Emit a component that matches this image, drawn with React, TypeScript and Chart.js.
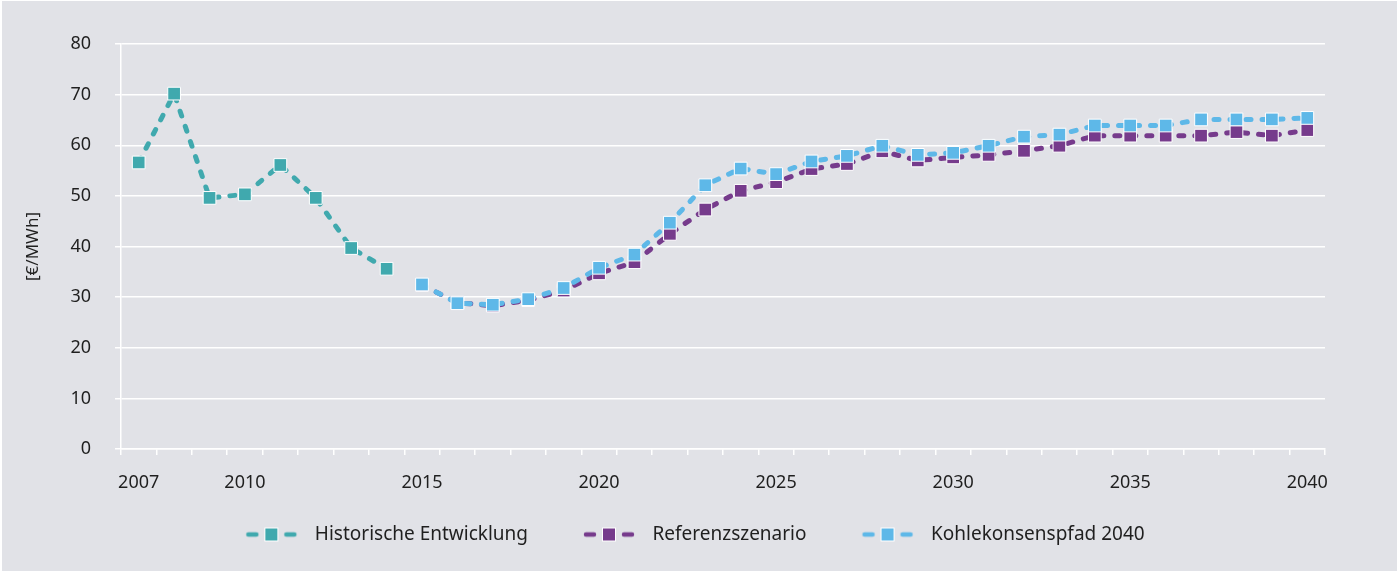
import React, { useEffect, useRef } from "react";
import { Chart, registerables } from "chart.js";

Chart.register(...registerables);

const YEARS = [
  "2007", "2008", "2009", "2010", "2011", "2012", "2013", "2014", "2015", "2016",
  "2017", "2018", "2019", "2020", "2021", "2022", "2023", "2024", "2025", "2026",
  "2027", "2028", "2029", "2030", "2031", "2032", "2033", "2034", "2035", "2036",
  "2037", "2038", "2039", "2040",
];

const TICK_LABELS = ["2007", "2010", "2015", "2020", "2025", "2030", "2035", "2040"];

const HISTORISCH = [
  56.6, 70.2, 49.6, 50.3, 56.1, 49.6, 39.7, 35.6, null, null,
  null, null, null, null, null, null, null, null, null, null,
  null, null, null, null, null, null, null, null, null, null,
  null, null, null, null,
];

const REFERENZ = [
  null, null, null, null, null, null, null, null, 32.4, 28.9,
  28.3, 29.4, 31.3, 34.7, 36.9, 42.5, 47.3, 51.0, 52.7, 55.3,
  56.3, 58.8, 57.0, 57.6, 58.1, 58.9, 59.9, 61.9, 61.9, 61.9,
  61.9, 62.6, 61.9, 63.0,
];

const KOHLEKONSENS = [
  null, null, null, null, null, null, null, null, 32.5, 28.8,
  28.5, 29.6, 31.8, 35.8, 38.4, 44.7, 52.1, 55.4, 54.3, 56.8,
  57.9, 59.9, 58.1, 58.5, 59.9, 61.7, 62.1, 63.9, 63.9, 63.9,
  65.1, 65.1, 65.1, 65.4,
];

const SERIES_NAMES = ["Historische Entwicklung", "Referenzszenario", "Kohlekonsenspfad 2040"];
const SERIES_COLORS = ["#40a9ae", "#763b8c", "#5eb8e8"];
const Y_TITLE = "[€/MWh]";

const FONT = "'Noto Sans', 'Liberation Sans', sans-serif";
const TEXT_COLOR = "#1f1f1f";

const LEGEND_BOX = 115;

function legendImage(color: string): HTMLCanvasElement {
  const c = document.createElement("canvas");
  const w = LEGEND_BOX;
  const h = 16;
  c.width = w;
  c.height = h;
  const ctx = c.getContext("2d")!;
  const x0 = w - 59; // marker start
  ctx.strokeStyle = color;
  ctx.lineWidth = 4.5;
  ctx.lineCap = "round";
  ctx.beginPath();
  ctx.moveTo(x0 + 2, h / 2);
  ctx.lineTo(x0 + 10, h / 2);
  ctx.moveTo(x0 + 40, h / 2);
  ctx.lineTo(x0 + 48, h / 2);
  ctx.stroke();
  ctx.fillStyle = "#ffffff";
  ctx.fillRect(x0 + 18, h / 2 - 7, 14, 14);
  ctx.fillStyle = color;
  ctx.fillRect(x0 + 19, h / 2 - 6, 12, 12);
  return c;
}

export default function App() {
  const canvasRef = useRef<HTMLCanvasElement | null>(null);

  useEffect(() => {
    document.body.style.margin = "0";
    const canvas = canvasRef.current;
    if (!canvas) return;

    const images = SERIES_COLORS.map((c) => legendImage(c));
    const seriesData = [HISTORISCH, REFERENZ, KOHLEKONSENS];
    const orders = [2, 1, 0];

    const chart = new Chart(canvas, {
      type: "line",
      data: {
        labels: YEARS,
        datasets: seriesData.map((d, i) => ({
          label: SERIES_NAMES[i],
          data: d,
          order: orders[i],
          borderColor: SERIES_COLORS[i],
          backgroundColor: SERIES_COLORS[i],
          borderWidth: 5,
          borderDash: [5, 11],
          borderCapStyle: "round" as const,
          tension: 0,
          fill: false,
          spanGaps: false,
          pointStyle: "rect" as const,
          pointRadius: 9,
          pointHoverRadius: 9,
          pointBackgroundColor: SERIES_COLORS[i],
          pointBorderColor: "#ffffff",
          pointBorderWidth: 1,
        })),
      },
      options: {
        responsive: false,
        animation: false,
        devicePixelRatio: 1,
        layout: { padding: { top: 44, right: 74, bottom: 17, left: 10 } },
        font: { family: FONT },
        plugins: {
          tooltip: { enabled: false },
          legend: {
            position: "bottom",
            labels: {
              usePointStyle: true,
              pointStyleWidth: LEGEND_BOX,
              padding: 0,
              color: TEXT_COLOR,
              font: { family: FONT, size: 19 },
              sort: (a: any, b: any) => a.datasetIndex - b.datasetIndex,
              generateLabels: (ch: any) => {
                const items = Chart.defaults.plugins.legend.labels.generateLabels(ch);
                return items.map((it: any) => ({
                  ...it,
                  pointStyle: images[it.datasetIndex],
                  lineDash: [],
                }));
              },
            },
          },
        },
        scales: {
          x: {
            type: "category",
            offset: true,
            grid: {
              offset: true,
              drawOnChartArea: false,
              drawTicks: true,
              tickLength: 6,
              color: "#ffffff",
              lineWidth: 1.5,
            },
            border: { display: true, color: "#ffffff", width: 1.5 },
            ticks: {
              autoSkip: false,
              maxRotation: 0,
              minRotation: 0,
              padding: 17,
              color: TEXT_COLOR,
              font: { family: FONT, size: 18 },
              callback: (_v: any, idx: number) =>
                TICK_LABELS.includes(YEARS[idx]) ? YEARS[idx] : "",
            },
            afterFit: (scale: any) => {
              scale.height = 76;
            },
          },
          y: {
            min: 0,
            max: 80,
            grid: {
              color: "#ffffff",
              lineWidth: 1.5,
              drawTicks: true,
              tickLength: 6,
            },
            border: { display: true, color: "#ffffff", width: 1.5 },
            ticks: {
              stepSize: 10,
              padding: 24,
              color: TEXT_COLOR,
              font: { family: FONT, size: 18 },
            },
            title: {
              display: true,
              text: Y_TITLE,
              color: TEXT_COLOR,
              font: { family: FONT, size: 17 },
              padding: { top: 13, bottom: 0 },
            },
            afterFit: (scale: any) => {
              scale.width = 111;
            },
          },
        },
      },
    } as any);

    return () => {
      chart.destroy();
    };
  }, []);

  return (
    <div style={{ position: "relative", width: 1399, height: 571, background: "#ffffff" }}>
      <div
        style={{
          position: "absolute",
          left: 2,
          top: 1,
          right: 2,
          bottom: 0,
          background: "#e1e2e7",
        }}
      />
      <canvas
        ref={canvasRef}
        width={1399}
        height={571}
        style={{ position: "absolute", left: 0, top: 0 }}
      />
    </div>
  );
}
